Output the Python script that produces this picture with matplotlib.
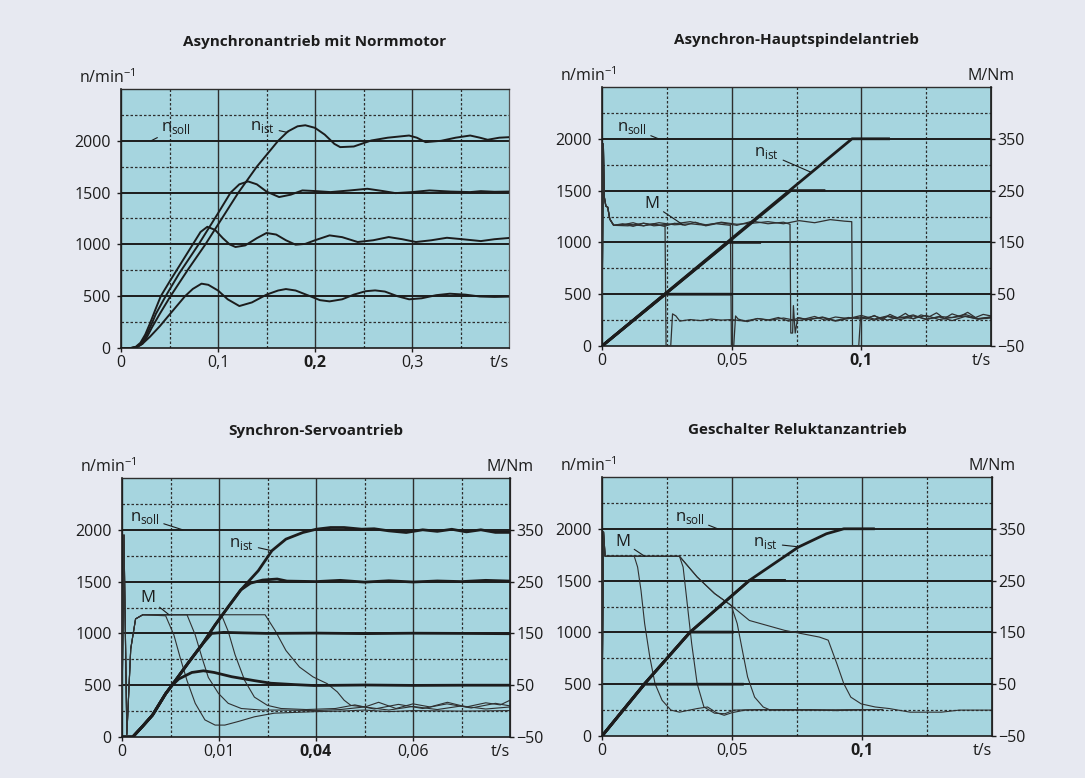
import matplotlib
matplotlib.use("Agg")
import matplotlib.pyplot as plt

W, H = 1085, 778
PAGE_BG = "#e7e9f1"
PLOT_BG = "#a6d5df"
INK = "#1c1c1c"
GRID = "#2e2e2e"

# common scales
n_ticks = [0, 500, 1000, 1500, 2000]
n_minor = [250, 750, 1250, 1750, 2250]
m_ticks = [-50, 50, 150, 250, 350]
m_labels = ["\u221250", "50", "150", "250", "350"]
soll = [500, 1000, 1500, 2000]

# Asynchronantrieb mit Normmotor (t in s, n in 1/min)
a_t_500 = [0, 0.010, 0.016, 0.022, 0.030, 0.040, 0.048, 0.057, 0.066, 0.074,
           0.083, 0.090, 0.100, 0.110, 0.122, 0.135, 0.150, 0.162, 0.170, 0.180,
           0.195, 0.205, 0.215, 0.228, 0.240, 0.252, 0.262, 0.272, 0.285, 0.297,
           0.310, 0.325, 0.339, 0.355, 0.370, 0.385, 0.400]
a_n_500 = [0, 0, 10, 40, 110, 210, 300, 400, 500, 570,
           621, 610, 555, 470, 405, 440, 515, 555, 569, 555,
           500, 462, 450, 470, 515, 548, 556, 545, 500, 470,
           480, 510, 524, 515, 497, 493, 496]
a_t_1000 = [0, 0.010, 0.015, 0.020, 0.025, 0.030, 0.035, 0.041, 0.050, 0.060,
            0.074, 0.082, 0.089, 0.097, 0.105, 0.112, 0.118, 0.128, 0.140, 0.150,
            0.160, 0.170, 0.180, 0.190, 0.200, 0.215, 0.228, 0.244, 0.260, 0.276,
            0.290, 0.304, 0.320, 0.336, 0.352, 0.371, 0.385, 0.400]
a_n_1000 = [0, 0, 10, 50, 130, 240, 360, 500, 640, 790,
            1000, 1120, 1170, 1140, 1060, 1000, 975, 990, 1060, 1110,
            1095, 1040, 997, 1005, 1040, 1087, 1070, 1023, 1040, 1071,
            1050, 1023, 1040, 1064, 1050, 1032, 1050, 1062]
a_t_1500 = [0, 0.011, 0.016, 0.021, 0.026, 0.031, 0.036, 0.046, 0.060, 0.080,
            0.100, 0.113, 0.122, 0.131, 0.140, 0.150, 0.163, 0.175, 0.187, 0.200,
            0.216, 0.235, 0.254, 0.270, 0.283, 0.300, 0.318, 0.340, 0.360, 0.371,
            0.385, 0.400]
a_n_1500 = [0, 0, 10, 45, 120, 220, 330, 500, 720, 1000,
            1300, 1500, 1580, 1608, 1580, 1510, 1457, 1480, 1521, 1515,
            1505, 1520, 1537, 1515, 1495, 1505, 1521, 1510, 1505, 1514,
            1508, 1510]
a_t_2000 = [0, 0.012, 0.017, 0.022, 0.027, 0.032, 0.040, 0.051, 0.070, 0.087,
            0.104, 0.121, 0.140, 0.155, 0.162, 0.172, 0.182, 0.190, 0.200, 0.210,
            0.220, 0.226, 0.240, 0.258, 0.275, 0.297, 0.305, 0.314, 0.330, 0.345,
            0.360, 0.370, 0.378, 0.390, 0.400]
a_n_2000 = [0, 0, 10, 40, 110, 200, 330, 500, 770, 1000,
            1250, 1500, 1750, 1920, 2000, 2090, 2140, 2150, 2125, 2060,
            1970, 1939, 1945, 2003, 2030, 2051, 2030, 1987, 2000, 2030,
            2051, 2030, 2010, 2030, 2035]

# Asynchron-Hauptspindelantrieb
h_target = [500, 1000, 1500, 2000]
h_t_reach = [0.0245, 0.0487, 0.0728, 0.0964]
h_t_hold = [0.0497, 0.0608, 0.0856, 0.1105]
h_m500_t = [0, 0.0005, 0.0009, 0.0015, 0.0022, 0.003, 0.0045, 0.008, 0.012, 0.016,
            0.020, 0.0243, 0.0247, 0.0265, 0.0272, 0.0285, 0.030, 0.034, 0.038, 0.042,
            0.046, 0.050, 0.055, 0.060, 0.065, 0.070, 0.075, 0.080, 0.085, 0.090,
            0.095, 0.100, 0.105, 0.110, 0.115, 0.120, 0.125, 0.130, 0.135, 0.140,
            0.145, 0.150]
h_m500 = [0, 340, 237, 220, 218, 195, 183, 186, 181, 187,
          182, 184, -50, -50, 12, 8, -2, 1, -1, 2,
          0, 1, -2, 3, 0, 4, -1, 2, 5, -2,
          3, 6, 0, 7, 1, 8, 2, 6, -1, 7,
          2, 4]
h_m1000_t = [0, 0.0005, 0.0009, 0.0015, 0.0022, 0.003, 0.0045, 0.008, 0.012, 0.016,
             0.020, 0.024, 0.028, 0.032, 0.036, 0.040, 0.044, 0.0495, 0.0499, 0.0508,
             0.0515, 0.0525, 0.056, 0.060, 0.064, 0.068, 0.072, 0.076, 0.080, 0.085,
             0.090, 0.095, 0.100, 0.105, 0.110, 0.115, 0.120, 0.125, 0.130, 0.135,
             0.140, 0.145, 0.150]
h_m1000 = [0, 340, 237, 220, 218, 195, 183, 184, 188, 182,
           186, 181, 187, 183, 189, 182, 186, 183, -50, -50,
           8, 2, -3, 3, 0, 5, -2, 4, 1, 6,
           -1, 5, 2, 8, 0, 6, 3, 9, 1, 5,
           8, 2, 6]
h_m1500_t = [0, 0.0005, 0.0009, 0.0015, 0.0022, 0.003, 0.0045, 0.010, 0.016, 0.022,
             0.028, 0.034, 0.040, 0.046, 0.052, 0.058, 0.064, 0.070, 0.0725, 0.0728,
             0.0735, 0.0738, 0.0745, 0.0755, 0.078, 0.082, 0.086, 0.090, 0.095, 0.100,
             0.105, 0.110, 0.115, 0.120, 0.125, 0.130, 0.135, 0.140, 0.145, 0.150]
h_m1500 = [0, 340, 237, 220, 218, 195, 183, 182, 187, 183,
           186, 190, 184, 188, 183, 191, 186, 189, 185, -25,
           -25, 28, -25, 5, 2, 7, 0, 6, 3, 9,
           2, 8, 4, 10, 1, 7, 5, 11, 3, 6]
h_m2000_t = [0, 0.0005, 0.0009, 0.0015, 0.0022, 0.003, 0.0045, 0.010, 0.016, 0.022,
             0.028, 0.034, 0.040, 0.046, 0.052, 0.058, 0.064, 0.070, 0.076, 0.082,
             0.088, 0.0935, 0.0963, 0.0966, 0.099, 0.0997, 0.102, 0.105, 0.108, 0.111,
             0.114, 0.117, 0.120, 0.123, 0.126, 0.129, 0.132, 0.135, 0.138, 0.141,
             0.144, 0.147, 0.150]
h_m2000 = [0, 340, 237, 220, 218, 195, 183, 185, 182, 188,
           184, 186, 183, 189, 185, 187, 190, 186, 192, 188,
           194, 191, 190, -50, -50, 6, 2, 9, 0, 11,
           4, 13, 2, 10, 6, 14, 3, 12, 7, 15,
           5, 11, 8]

# Synchron-Servoantrieb (axis runs 0..0.08, labels as printed)
s_t_2000 = [0, 0.0022, 0.0042, 0.0063, 0.0090, 0.0110, 0.0137, 0.0165, 0.0192, 0.0219,
            0.0245, 0.0281, 0.0309, 0.0338, 0.0373, 0.0401, 0.0430, 0.0458, 0.0494, 0.0520,
            0.0550, 0.0586, 0.0620, 0.0650, 0.0680, 0.0710, 0.0740, 0.0770, 0.0800]
s_n_2000 = [0, 0, 101, 212, 418, 544, 718, 892, 1082, 1256,
            1420, 1605, 1798, 1910, 1974, 2006, 2022, 2022, 2006, 2010,
            1990, 1974, 2000, 1985, 2005, 1980, 2000, 1975, 1975]
s_t_1500 = [0, 0.0022, 0.0042, 0.0063, 0.0090, 0.0110, 0.0137, 0.0165, 0.0192, 0.0219,
            0.0245, 0.0265, 0.0290, 0.0320, 0.0340, 0.0400, 0.0450, 0.0500, 0.0550, 0.0600,
            0.0650, 0.0700, 0.0750, 0.0800]
s_n_1500 = [0, 0, 101, 212, 418, 544, 718, 892, 1082, 1256,
            1420, 1485, 1515, 1525, 1505, 1500, 1512, 1495, 1508, 1496,
            1506, 1500, 1512, 1505]
s_t_1000 = [0, 0.0022, 0.0042, 0.0063, 0.0090, 0.0110, 0.0137, 0.0165, 0.0185, 0.0210,
            0.0250, 0.0300, 0.0400, 0.0500, 0.0600, 0.0700, 0.0800]
s_n_1000 = [0, 0, 101, 212, 418, 544, 718, 892, 1000, 1010,
            1005, 1000, 1003, 998, 1002, 1000, 997]
s_t_500 = [0, 0.0022, 0.0042, 0.0063, 0.0090, 0.0103, 0.0117, 0.0144, 0.0168, 0.0190,
           0.0226, 0.0273, 0.0307, 0.0355, 0.0396, 0.0500, 0.0600, 0.0700, 0.0800]
s_n_500 = [0, 0, 101, 212, 418, 497, 560, 623, 639, 623,
           582, 544, 519, 506, 497, 502, 498, 500, 500]
s_m1_t = [0, 0.0004, 0.0010, 0.0018, 0.0028, 0.0043, 0.0090, 0.0107, 0.0120, 0.0134,
          0.0151, 0.0171, 0.0192, 0.0212, 0.0240, 0.0273, 0.0314, 0.0400, 0.0450, 0.0500,
          0.0550, 0.0600, 0.0700, 0.0800]
s_m1 = [0, 340, -45, 120, 178, 186, 184, 147, 103, 59,
        15, -17, -27, -27, -20, -11, -4, -1, 0, 2,
        -1, 1, 0, 1]
s_m2_t = [0, 0.0004, 0.0010, 0.0018, 0.0028, 0.0043, 0.0134, 0.0151, 0.0165, 0.0178,
          0.0199, 0.0219, 0.0246, 0.0287, 0.0328, 0.0400, 0.0450, 0.0500, 0.0550, 0.0600,
          0.0650, 0.0700, 0.0750, 0.0800]
s_m2 = [0, 340, -45, 120, 178, 186, 186, 147, 103, 65,
        34, 15, 5, 2, 2, 1, 3, 8, 2, 9,
        3, 10, 4, 8]
s_m3_t = [0, 0.0004, 0.0010, 0.0018, 0.0028, 0.0043, 0.0205, 0.0219, 0.0233, 0.0253,
          0.0273, 0.0300, 0.0328, 0.0380, 0.0440, 0.0480, 0.0520, 0.0570, 0.0620, 0.0670,
          0.0720, 0.0770, 0.0800]
s_m3 = [0, 340, -45, 120, 178, 186, 186, 154, 109, 59,
        27, 11, 5, 3, 5, 12, 4, 13, 5, 14,
        6, 15, 10]
s_m4_t = [0, 0.0004, 0.0010, 0.0018, 0.0028, 0.0043, 0.0295, 0.0316, 0.0338, 0.0366,
          0.0394, 0.0423, 0.0444, 0.0458, 0.0472, 0.0501, 0.0529, 0.0565, 0.0600, 0.0635,
          0.0671, 0.0710, 0.0750, 0.0780, 0.0800]
s_m4 = [0, 340, -45, 120, 178, 186, 186, 155, 117, 85,
        66, 53, 37, 21, 11, 8, 17, 5, 14, 8,
        17, 8, 16, 12, 21]

# Geschalter Reluktanzantrieb
r_t_500 = [0, 0.0164, 0.0540]
r_n_500 = [0, 500, 500]
r_t_1000 = [0, 0.0164, 0.0339, 0.0502]
r_n_1000 = [0, 505, 1003, 1003]
r_t_1500 = [0, 0.0164, 0.0339, 0.0567, 0.0702]
r_n_1500 = [0, 505, 1003, 1502, 1502]
r_t_2000 = [0, 0.0164, 0.0339, 0.0567, 0.0755, 0.0863, 0.0930, 0.1044]
r_n_2000 = [0, 505, 1003, 1502, 1823, 1952, 2000, 2000]
r_m1_t = [0, 0.0006, 0.0012, 0.0124, 0.0137, 0.0150, 0.0164, 0.0184, 0.0204, 0.0231,
          0.0265, 0.0298, 0.0366, 0.0406, 0.0440, 0.0470, 0.0500, 0.0550, 0.0700, 0.0900,
          0.1080]
r_m1 = [0, 344, 297, 297, 276, 231, 167, 102, 51, 19,
        0, -4, 3, 6, -5, -10, -5, 0, 1, 0,
        1]
r_m2_t = [0, 0.0006, 0.0012, 0.0298, 0.0312, 0.0325, 0.0345, 0.0366, 0.0392, 0.0433,
          0.0473, 0.0507, 0.0600, 0.0800, 0.1050]
r_m2 = [0, 344, 297, 297, 276, 218, 128, 51, 6, -6,
        -7, 0, 1, 0, 1]
r_m3_t = [0, 0.0006, 0.0012, 0.0298, 0.0366, 0.0433, 0.0497, 0.0520, 0.0540, 0.0560,
          0.0587, 0.0620, 0.0648, 0.0702, 0.0800, 0.0900, 0.1000]
r_m3 = [0, 344, 297, 297, 257, 225, 202, 167, 115, 64,
        25, 6, 0, 0, 1, -1, 1]
r_m4_t = [0, 0.0006, 0.0012, 0.0298, 0.0366, 0.0433, 0.0497, 0.0567, 0.0702, 0.0836,
          0.0870, 0.0903, 0.0930, 0.0957, 0.0997, 0.1051, 0.1105, 0.1185, 0.1306, 0.1374,
          0.1500]
r_m4 = [0, 344, 297, 297, 257, 225, 202, 173, 154, 141,
        135, 90, 51, 25, 12, 6, 3, -4, -4, 0,
        0]


def box(left, top, right, bottom):
    # pixel box -> figure fraction
    return [left / W, 1 - bottom / H, (right - left) / W, (bottom - top) / H]


def ftext(fig, x, y, s, **kw):
    fig.text(x / W, 1 - y / H, s, **kw)


def make_panel(fig, px, xmax, xmajor, xminor, xlabels, bold, title, right_axis):
    ax = fig.add_axes(box(*px))
    ax.set_facecolor(PLOT_BG)
    ax.set_xlim(0, xmax)
    ax.set_ylim(0, 2500)
    ax.set_xticks(xmajor)
    ax.set_xticklabels(xlabels)
    ax.set_xticks(xminor, minor=True)
    ax.set_yticks(n_ticks)
    ax.set_yticks(n_minor, minor=True)
    ax.tick_params(which="minor", length=0)
    ax.tick_params(which="major", length=3, width=1, color=INK, labelsize=11.5,
                   labelcolor=INK)
    ax.tick_params(axis="y", pad=4.5)
    ax.tick_params(axis="x", pad=2)
    ax.get_xticklabels()[bold].set_fontweight("bold")
    ax.grid(which="major", axis="x", color=GRID, lw=1.0)
    ax.grid(which="minor", color=GRID, lw=0.9, ls=(0, (2, 1.6)))
    ax.set_axisbelow(True)
    for v in soll:
        ax.axhline(v, color=INK, lw=1.4, zorder=1.5)
    ax.spines["top"].set_color(GRID)
    ax.spines["top"].set_linewidth(1.0)
    ax.spines["right"].set_color("#555555")
    ax.spines["right"].set_linewidth(0.9)
    for s in ("left", "bottom"):
        ax.spines[s].set_color(INK)
        ax.spines[s].set_linewidth(1.2)
    ax.annotate("t/s", xy=(1, 0), xycoords="axes fraction", xytext=(0, -5),
                textcoords="offset points", ha="right", va="top", fontsize=11.5,
                color=INK)

    left, top, right, bottom = px
    ftext(fig, (left + right) / 2, top - 47, title, ha="center", va="center",
          fontsize=11, fontweight="bold", color=INK)
    ftext(fig, left - 14, top - 11, "n/min$^{\\mathregular{-1}}$", ha="center",
          va="center", fontsize=11.5, color=INK)

    ax2 = None
    if right_axis:
        ax2 = ax.twinx()
        ax2.set_ylim(-50, 450)
        ax2.set_yticks(m_ticks)
        ax2.set_yticklabels(m_labels)
        ax2.tick_params(length=3, width=1, color=INK, labelsize=11.5, labelcolor=INK,
                        pad=1.5)
        for s in ("left", "top", "bottom"):
            ax2.spines[s].set_visible(False)
        ax2.spines["right"].set_color(INK)
        ax2.spines["right"].set_linewidth(1.2)
        ftext(fig, right, top - 11, "M/Nm", ha="center", va="center", fontsize=11.5,
              color=INK)
    return ax, ax2


def label(ax, sub, xy, xytext):
    ax.annotate("n$_{\\mathregular{%s}}$" % sub if sub else "M", xy=xy, xytext=xytext,
                ha="center", va="center", fontsize=12, color=INK,
                arrowprops=dict(arrowstyle="-", color=INK, lw=0.8,
                                shrinkA=1, shrinkB=0))


def main():
    plt.rcParams["font.family"] = ["Open Sans", "DejaVu Sans"]
    plt.rcParams["mathtext.fontset"] = "custom"
    plt.rcParams["mathtext.rm"] = "Open Sans"
    fig = plt.figure(figsize=(W / 100, H / 100), dpi=100)
    fig.patch.set_facecolor(PAGE_BG)

    # top left
    ax, _ = make_panel(fig, (121, 89, 509, 348), 0.4, [0, 0.1, 0.2, 0.3],
                       [0.05, 0.15, 0.25, 0.35], ["0", "0,1", "0,2", "0,3"], 2,
                       "Asynchronantrieb mit Normmotor", False)
    for t, n in ((a_t_500, a_n_500), (a_t_1000, a_n_1000),
                 (a_t_1500, a_n_1500), (a_t_2000, a_n_2000)):
        ax.plot(t, n, color=INK, lw=1.4, zorder=3)
    label(ax, "soll", (0.031, 2000), (0.057, 2124))
    label(ax, "ist", (0.172, 2080), (0.146, 2133))

    # top right
    ax, ax2 = make_panel(fig, (602, 87, 991, 346), 0.15, [0, 0.05, 0.1],
                         [0.025, 0.075, 0.125], ["0", "0,05", "0,1"], 2,
                         "Asynchron-Hauptspindelantrieb", True)
    for t, m in ((h_m500_t, h_m500), (h_m1000_t, h_m1000),
                 (h_m1500_t, h_m1500), (h_m2000_t, h_m2000)):
        ax2.plot(t, m, color="#303030", lw=0.9)
    for n, tr, th in zip(h_target, h_t_reach, h_t_hold):
        ax2.plot([0, tr, th], [(0 - 250) / 5, (n - 250) / 5, (n - 250) / 5],
                 color=INK, lw=2.0)
    label(ax, "soll", (0.0218, 2000), (0.0115, 2104))
    label(ax, "ist", (0.0808, 1675), (0.0635, 1863))
    label(ax2, None, (0.0312, 184), (0.0193, 224))

    # bottom left
    ax, ax2 = make_panel(fig, (122, 478, 510, 737), 0.08, [0, 0.02, 0.04, 0.06],
                         [0.01, 0.03, 0.05, 0.07], ["0", "0,01", "0,04", "0,06"], 2,
                         "Synchron-Servoantrieb", True)
    for t, m in ((s_m1_t, s_m1), (s_m2_t, s_m2), (s_m3_t, s_m3), (s_m4_t, s_m4)):
        ax2.plot(t, m, color="#303030", lw=0.8)
    for t, n in ((s_t_500, s_n_500), (s_t_1000, s_n_1000),
                 (s_t_1500, s_n_1500), (s_t_2000, s_n_2000)):
        ax2.plot(t, [(v - 250) / 5 for v in n], color=INK, lw=2.0)
    label(ax, "soll", (0.0125, 2000), (0.0047, 2117))
    label(ax, "ist", (0.0309, 1798), (0.0247, 1863))
    label(ax2, None, (0.0097, 186), (0.0054, 218))

    # bottom right
    ax, ax2 = make_panel(fig, (602, 477, 992, 736), 0.15, [0, 0.05, 0.1],
                         [0.025, 0.075, 0.125], ["0", "0,05", "0,1"], 2,
                         "Geschalter Reluktanzantrieb", True)
    for t, m in ((r_m1_t, r_m1), (r_m2_t, r_m2), (r_m3_t, r_m3), (r_m4_t, r_m4)):
        ax2.plot(t, m, color="#303030", lw=0.8)
    for t, n in ((r_t_500, r_n_500), (r_t_1000, r_n_1000),
                 (r_t_1500, r_n_1500), (r_t_2000, r_n_2000)):
        ax2.plot(t, [(v - 250) / 5 for v in n], color=INK, lw=2.0)
    label(ax, "soll", (0.0445, 2000), (0.0337, 2107))
    label(ax, "ist", (0.0759, 1825), (0.063, 1860))
    label(ax2, None, (0.0164, 297), (0.008, 325))

    fig.savefig("out.png", dpi=100, facecolor=fig.get_facecolor())


if __name__ == "__main__":
    main()
